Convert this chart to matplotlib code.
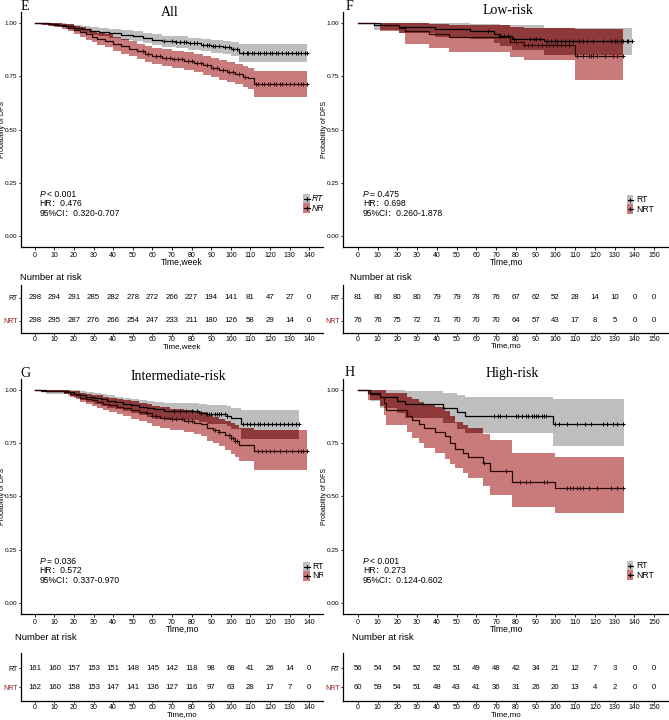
import numpy as np
import matplotlib
matplotlib.use('Agg')
import matplotlib.pyplot as plt
from matplotlib.patches import Rectangle

SANS = ['Liberation Sans Narrow', 'Liberation Sans', 'Noto Sans CJK SC', 'DejaVu Sans']
SERIF = ['Liberation Serif', 'DejaVu Serif']
plt.rcParams['font.family'] = SANS

# ---------------- data ----------------
# Panel E (All)
E_rt_t = [0, 4, 8, 12, 16, 20, 24, 28, 33, 38, 44, 50, 55, 60, 65, 72, 78, 85, 90, 96, 100, 104]
E_rt_s = [1.0, 0.997, 0.993, 0.990, 0.983, 0.977, 0.970, 0.963, 0.957, 0.950, 0.943, 0.937, 0.930, 0.920, 0.913, 0.910, 0.903, 0.897, 0.890, 0.884, 0.878, 0.858]
E_rt_up = [1.0, 1.0, 1.0, 0.999, 0.995, 0.990, 0.985, 0.980, 0.975, 0.969, 0.964, 0.959, 0.953, 0.945, 0.939, 0.936, 0.930, 0.925, 0.919, 0.914, 0.909, 0.901]
E_rt_lo = [1.0, 0.991, 0.984, 0.978, 0.969, 0.961, 0.953, 0.944, 0.936, 0.928, 0.920, 0.913, 0.905, 0.894, 0.886, 0.882, 0.874, 0.867, 0.860, 0.853, 0.846, 0.815]
E_rt_end = 139
E_rt_cens = [66, 70, 72, 74, 76, 77, 79, 81, 83, 86, 88, 89, 91, 92, 94, 97, 99, 101, 103, 106, 108, 109, 111, 112, 114, 115, 117, 118, 120, 121, 123, 124, 126, 128, 129, 131, 133, 134, 136, 138, 139]
E_nrt_t = [0, 3, 7, 10, 14, 17, 20, 23, 26, 29, 32, 36, 40, 44, 48, 52, 56, 60, 65, 70, 76, 81, 86, 90, 94, 98, 102, 106, 109, 112]
E_nrt_s = [1.0, 0.997, 0.993, 0.990, 0.983, 0.977, 0.967, 0.957, 0.945, 0.935, 0.925, 0.915, 0.900, 0.889, 0.878, 0.866, 0.855, 0.845, 0.837, 0.828, 0.820, 0.810, 0.800, 0.790, 0.780, 0.770, 0.760, 0.748, 0.740, 0.712]
E_nrt_up = [1.0, 1.0, 1.0, 0.999, 0.996, 0.993, 0.986, 0.978, 0.969, 0.961, 0.953, 0.945, 0.932, 0.922, 0.913, 0.902, 0.892, 0.883, 0.876, 0.868, 0.861, 0.852, 0.843, 0.834, 0.825, 0.816, 0.807, 0.796, 0.789, 0.776]
E_nrt_lo = [1.0, 0.990, 0.984, 0.979, 0.969, 0.960, 0.947, 0.935, 0.920, 0.908, 0.897, 0.884, 0.867, 0.855, 0.842, 0.829, 0.817, 0.806, 0.797, 0.787, 0.778, 0.767, 0.756, 0.745, 0.734, 0.723, 0.712, 0.699, 0.690, 0.651]
E_nrt_end = 139
E_nrt_cens = [55, 58, 62, 64, 67, 69, 71, 73, 75, 78, 80, 83, 85, 88, 91, 93, 96, 99, 101, 104, 107, 113, 114, 116, 117, 119, 120, 122, 123, 125, 126, 128, 130, 132, 134, 136, 137, 139]
E_risk_t = [0, 10, 20, 30, 40, 50, 60, 70, 80, 90, 100, 110, 120, 130, 140]
E_risk_rt = [298, 294, 291, 285, 282, 278, 272, 266, 227, 194, 141, 81, 47, 27, 0]
E_risk_nrt = [298, 295, 287, 276, 266, 254, 247, 233, 211, 180, 126, 58, 29, 14, 0]

# Panel F (Low-risk)
F_rt_t = [0, 8, 21, 39, 57, 69, 72, 78, 94]
F_rt_s = [1.0, 0.988, 0.978, 0.970, 0.959, 0.947, 0.936, 0.924, 0.912]
F_rt_up = [1.0, 1.0, 1.0, 0.997, 0.995, 0.995, 0.987, 0.987, 0.975]
F_rt_lo = [1.0, 0.966, 0.950, 0.935, 0.924, 0.905, 0.890, 0.873, 0.850]
F_rt_end = 139
F_rt_cens = [66, 72, 74, 76, 79, 87, 89, 90, 92, 96, 98, 100, 101, 103, 105, 107, 109, 112, 114, 116, 119, 124, 128, 130, 131, 133, 134, 136, 137, 139]
F_nrt_t = [0, 11, 21, 24, 36, 46, 77, 84, 110]
F_nrt_s = [1.0, 0.987, 0.974, 0.960, 0.946, 0.932, 0.910, 0.897, 0.842]
F_nrt_up = [1.0, 1.0, 1.0, 0.998, 0.995, 0.990, 0.982, 0.975, 0.970]
F_nrt_lo = [1.0, 0.962, 0.950, 0.901, 0.881, 0.862, 0.840, 0.826, 0.731]
F_nrt_end = 134
F_nrt_cens = [80, 84, 86, 88, 91, 93, 95, 97, 99, 101, 103, 105, 107, 111, 114, 117, 118, 119, 121, 125, 129, 131, 134]
F_risk_t = [0, 10, 20, 30, 40, 50, 60, 70, 80, 90, 100, 110, 120, 130, 140, 150]
F_risk_rt = [81, 80, 80, 80, 79, 79, 78, 76, 67, 62, 52, 28, 14, 10, 0, 0]
F_risk_nrt = [76, 76, 75, 72, 71, 70, 70, 70, 64, 57, 43, 17, 8, 5, 0, 0]

# Panel G (Intermediate-risk)
G_rt_t = [0, 6, 17, 20, 23, 26, 30, 34, 37, 41, 45, 49, 53, 57, 61, 66, 84, 88, 98, 100, 105]
G_rt_s = [1.0, 0.994, 0.988, 0.981, 0.975, 0.968, 0.962, 0.955, 0.948, 0.942, 0.935, 0.928, 0.921, 0.914, 0.908, 0.901, 0.893, 0.885, 0.877, 0.868, 0.840]
G_rt_up = [1.0, 1.0, 1.0, 0.997, 0.993, 0.988, 0.984, 0.978, 0.973, 0.968, 0.963, 0.958, 0.952, 0.946, 0.941, 0.937, 0.932, 0.927, 0.922, 0.915, 0.905]
G_rt_lo = [1.0, 0.982, 0.970, 0.960, 0.950, 0.942, 0.933, 0.925, 0.916, 0.908, 0.899, 0.890, 0.882, 0.873, 0.865, 0.856, 0.847, 0.838, 0.829, 0.818, 0.771]
G_rt_end = 135
G_rt_cens = [71, 74, 77, 80, 83, 85, 88, 89, 90, 92, 93, 94, 95, 97, 98, 106, 108, 110, 112, 114, 115, 117, 119, 121, 123, 125, 127, 129, 131, 133, 135]
G_nrt_t = [0, 3, 15, 18, 21, 23, 26, 29, 32, 35, 38, 42, 45, 49, 53, 57, 60, 64, 69, 76, 81, 85, 88, 91, 94, 97, 100, 102, 104, 112]
G_nrt_s = [1.0, 0.994, 0.988, 0.981, 0.975, 0.963, 0.956, 0.950, 0.943, 0.935, 0.928, 0.921, 0.913, 0.905, 0.897, 0.889, 0.877, 0.869, 0.861, 0.853, 0.846, 0.838, 0.822, 0.812, 0.800, 0.786, 0.772, 0.760, 0.743, 0.714]
G_nrt_up = [1.0, 1.0, 0.998, 0.995, 0.992, 0.985, 0.981, 0.977, 0.973, 0.967, 0.962, 0.957, 0.951, 0.945, 0.939, 0.933, 0.923, 0.917, 0.911, 0.905, 0.900, 0.894, 0.882, 0.874, 0.865, 0.854, 0.843, 0.833, 0.819, 0.812]
G_nrt_lo = [1.0, 0.988, 0.978, 0.967, 0.958, 0.941, 0.931, 0.923, 0.913, 0.903, 0.894, 0.885, 0.875, 0.865, 0.855, 0.845, 0.831, 0.821, 0.811, 0.801, 0.792, 0.782, 0.762, 0.750, 0.735, 0.718, 0.701, 0.687, 0.667, 0.623]
G_nrt_end = 139
G_nrt_cens = [57, 60, 62, 66, 70, 72, 75, 78, 80, 92, 94, 99, 100, 101, 102, 103, 114, 116, 118, 120, 122, 125, 128, 131, 134, 136, 137, 139]
G_risk_t = [0, 10, 20, 30, 40, 50, 60, 70, 80, 90, 100, 110, 120, 130, 140]
G_risk_rt = [161, 160, 157, 153, 151, 148, 145, 142, 118, 98, 68, 41, 26, 14, 0]
G_risk_nrt = [162, 160, 158, 153, 147, 141, 136, 127, 116, 97, 63, 28, 17, 7, 0]

# Panel H (High-risk)
H_rt_t = [0, 6, 11, 20, 24, 43, 50, 54, 99]
H_rt_s = [1.0, 0.982, 0.964, 0.947, 0.931, 0.912, 0.895, 0.878, 0.839]
H_rt_up = [1.0, 1.0, 1.0, 0.998, 0.994, 0.985, 0.976, 0.966, 0.956]
H_rt_lo = [1.0, 0.948, 0.916, 0.890, 0.866, 0.842, 0.818, 0.797, 0.737]
H_rt_end = 134.5
H_rt_cens = [69, 71, 72, 75, 80, 81, 83, 85, 86, 88, 89, 90, 91, 93, 94, 95, 100, 102, 106, 111, 115, 118, 124, 126, 129, 131, 134]
H_nrt_t = [0, 5, 11, 13, 14.5, 24.7, 27.5, 31, 33.6, 39, 44, 46.6, 49.2, 53, 56, 63.5, 66.9, 78, 100]
H_nrt_s = [1.0, 0.983, 0.967, 0.940, 0.906, 0.878, 0.856, 0.840, 0.822, 0.804, 0.782, 0.750, 0.722, 0.705, 0.687, 0.656, 0.620, 0.566, 0.538]
H_nrt_up = [1.0, 1.0, 1.0, 0.997, 0.985, 0.968, 0.955, 0.944, 0.930, 0.918, 0.900, 0.875, 0.850, 0.835, 0.820, 0.792, 0.765, 0.703, 0.684]
H_nrt_lo = [1.0, 0.950, 0.922, 0.880, 0.835, 0.800, 0.773, 0.750, 0.726, 0.703, 0.676, 0.652, 0.632, 0.610, 0.585, 0.550, 0.507, 0.452, 0.421]
H_nrt_end = 134.5
H_nrt_cens = [64, 75, 82, 85, 87, 94, 96, 106, 107.5, 109, 111, 112.5, 114, 117, 121, 128, 131, 134]
H_risk_t = [0, 10, 20, 30, 40, 50, 60, 70, 80, 90, 100, 110, 120, 130, 140, 150]
H_risk_rt = [56, 54, 54, 52, 52, 51, 49, 48, 42, 34, 21, 12, 7, 3, 0, 0]
H_risk_nrt = [60, 59, 54, 51, 48, 43, 41, 36, 31, 26, 20, 13, 4, 2, 0, 0]

groups = ['RT', 'NRT']
y_ticks = [0.00, 0.25, 0.50, 0.75, 1.00]

# ---------------- styling ----------------
GRAY = '#BEBEBE'
RED = '#C97B7B'
DARK = '#8F3A3A'
NRT_LINE = '#2A0505'
NRT_LABEL = '#8B1A1A'

W, H = 669, 720
fig = plt.figure(figsize=(W / 100, H / 100), dpi=100)


def add_ax(l, t, r, b):
    return fig.add_axes([l / W, 1 - b / H, (r - l) / W, (b - t) / H])


def ftext(x, y, s, **kw):
    fig.text(x / W, 1 - y / H, s, **kw)


def step_eval(times, vals, grid):
    idx = np.searchsorted(np.asarray(times, float), grid, side='right') - 1
    return np.asarray(vals, float)[idx]


def ext(t, v, end):
    return list(t) + [end], list(v) + [v[-1]]


def style_axis(ax, xmax, labelsize=5.0, pad=1.5, length=2):
    for s in ['top', 'right']:
        ax.spines[s].set_visible(False)
    for s in ['left', 'bottom']:
        ax.spines[s].set_linewidth(0.9)
    ax.tick_params(length=length, width=0.6, labelsize=labelsize, pad=pad)
    ax.tick_params(axis='y', labelsize=4.6, pad=0.8, length=1.8)
    ax.set_xticks(list(range(0, xmax + 1, 10)))
    ax.set_xlim(-0.05 * xmax, 1.05 * xmax)


def draw_panel(cfg):
    ax = add_ax(*cfg['main'])
    xmax = cfg['xmax']
    style_axis(ax, xmax)
    ax.set_ylim(-0.05, 1.05)
    ax.set_yticks(y_ticks)
    ax.set_yticklabels(['%.2f' % v for v in y_ticks])
    ftext(cfg['ylab_xy'][0], cfg['ylab_xy'][1], 'Probability of DFS', fontsize=5.0,
          family=['Liberation Sans', 'DejaVu Sans'], rotation=90, ha='center', va='center')
    series = cfg['series']
    # bands
    for s, col in zip(series, [GRAY, RED]):
        tt, lo = ext(s['t'], s['lo'], s['end'])
        _, up = ext(s['t'], s['up'], s['end'])
        ax.fill_between(tt, lo, up, step='post', color=col, lw=0, zorder=1)
    # overlap of the two bands
    a, b = series
    end = min(a['end'], b['end'])
    grid = np.unique(np.concatenate([a['t'], b['t'], [end]]))
    grid = grid[grid <= end]
    lo = np.maximum(step_eval(a['t'], a['lo'], grid), step_eval(b['t'], b['lo'], grid))
    up = np.minimum(step_eval(a['t'], a['up'], grid), step_eval(b['t'], b['up'], grid))
    up = np.maximum(up, lo)
    ax.fill_between(grid, lo, up, step='post', color=DARK, lw=0, zorder=2)
    # curves and censor marks
    for s, col in zip(series, ['black', NRT_LINE]):
        tt, ss = ext(s['t'], s['s'], s['end'])
        ax.step(tt, ss, where='post', color=col, lw=0.9, zorder=3)
        ct = np.asarray(s['cens'], float)
        cy = step_eval(s['t'], s['s'], ct)
        ax.plot(ct, cy, ls='none', marker='+', ms=3.2, mew=0.7, color=col, zorder=4)
    # stats text
    sx, sy = cfg['stats_xy']
    ax.text(sx, sy, 'P', style='italic', fontsize=6.2, va='center', ha='left')
    ax.annotate(cfg['p'], (sx, sy), xytext=(5.0, 0), textcoords='offset points', fontsize=6.2, va='center', ha='left')
    ax.text(sx, sy - 0.043, 'HR：' + cfg['hr'], fontsize=6.2, va='center', ha='left')
    ax.text(sx, sy - 0.088, '95%CI：' + cfg['ci'], fontsize=6.2, va='center', ha='left')
    # legend
    kx0, kx1, lx = cfg['key_x']
    for yc, col, name in zip(cfg['key_y'], [GRAY, RED], groups):
        ax.add_patch(Rectangle((kx0, yc - 0.022), kx1 - kx0, 0.044, color=col, lw=0, zorder=5))
        ax.plot([kx0 + 0.3, kx1 - 0.3], [yc, yc], color='black', lw=0.8, zorder=6)
        ax.plot([(kx0 + kx1) / 2], [yc], marker='+', ms=3.5, mew=0.8, color='black', zorder=6)
        ax.text(lx, yc, name, fontsize=6.2, va='center', ha='left', style=cfg['legend_style'], clip_on=True, zorder=6)
    # letter and title
    ftext(*cfg['letter_xy'], cfg['letter'], fontsize=10, family=SERIF, ha='center', va='center')
    ftext(*cfg['title_xy'], cfg['title'], fontsize=10, family=SERIF, ha='center', va='center')
    ftext(cfg['xlab_x'], cfg['xlab_y'][0], cfg['xlab'], fontsize=6.2, ha='center', va='center')

    # risk table
    tb = add_ax(*cfg['table'])
    style_axis(tb, xmax, labelsize=5.0, pad=1, length=1.5)
    tb.tick_params(axis='y', labelsize=5.0)
    tb.set_ylim(*cfg['table_ylim'])
    tb.set_yticks([1, 0])
    tb.set_yticklabels(groups)
    tb.get_yticklabels()[1].set_color(NRT_LABEL)
    for row, yv in [(cfg['risk'][1], 1), (cfg['risk'][2], 0)]:
        for x, n in zip(cfg['risk'][0], row):
            tb.text(x, yv, str(n), fontsize=5.6, ha='center', va='center')
    ftext(cfg['nar_x'], cfg['nar_y'], 'Number at risk', fontsize=6.8, ha='left', va='center')
    ftext(cfg['xlab_x'], cfg['xlab_y'][1], cfg['xlab'], fontsize=5.8, ha='center', va='center')


def mk(t, s, lo, up, end, cens):
    return dict(t=np.asarray(t, float), s=s, lo=lo, up=up, end=end, cens=cens)


panels = [
    dict(letter='E', title='All', xmax=140, xlab='Time,week',
         main=(21, 12, 323, 247), table=(21, 285, 323, 333), table_ylim=(-0.535, 1.552),
         letter_xy=(25, 7), title_xy=(170, 12), xlab_x=182, xlab_y=(262, 347), nar_x=20, nar_y=277,
         ylab_xy=(2.6, 129.5),
         series=[mk(E_rt_t, E_rt_s, E_rt_lo, E_rt_up, E_rt_end, E_rt_cens),
                 mk(E_nrt_t, E_nrt_s, E_nrt_lo, E_nrt_up, E_nrt_end, E_nrt_cens)],
         risk=(E_risk_t, E_risk_rt, E_risk_nrt),
         p='< 0.001', hr='0.476', ci='0.320-0.707', stats_xy=(2.5, 0.197),
         key_x=(137, 140.5, 141.5), key_y=(0.176, 0.132), legend_style='italic'),
    dict(letter='F', title='Low-risk', xmax=150, xlab='Time,mo',
         main=(343, 12, 669, 247), table=(343, 285, 669, 333), table_ylim=(-0.535, 1.552),
         letter_xy=(349, 6), title_xy=(508, 10), xlab_x=506, xlab_y=(262, 346), nar_x=350, nar_y=277,
         ylab_xy=(324, 129.5),
         series=[mk(F_rt_t, F_rt_s, F_rt_lo, F_rt_up, F_rt_end, F_rt_cens),
                 mk(F_nrt_t, F_nrt_s, F_nrt_lo, F_nrt_up, F_nrt_end, F_nrt_cens)],
         risk=(F_risk_t, F_risk_rt, F_risk_nrt),
         p='= 0.475', hr='0.698', ci='0.260-1.878', stats_xy=(2.5, 0.197),
         key_x=(136.4, 139.4, 140.9), key_y=(0.171, 0.127), legend_style='normal'),
    dict(letter='G', title='Intermediate-risk', xmax=140, xlab='Time,mo',
         main=(21, 379, 323, 614), table=(21, 653, 323, 701), table_ylim=(-0.737, 1.79),
         letter_xy=(25, 373), title_xy=(178, 377), xlab_x=182, xlab_y=(629, 714.5), nar_x=15, nar_y=637,
         ylab_xy=(2.6, 496.5),
         series=[mk(G_rt_t, G_rt_s, G_rt_lo, G_rt_up, G_rt_end, G_rt_cens),
                 mk(G_nrt_t, G_nrt_s, G_nrt_lo, G_nrt_up, G_nrt_end, G_nrt_cens)],
         risk=(G_risk_t, G_risk_rt, G_risk_nrt),
         p='= 0.036', hr='0.572', ci='0.337-0.970', stats_xy=(2.5, 0.197),
         key_x=(137, 140.5, 141.5), key_y=(0.172, 0.128), legend_style='normal'),
    dict(letter='H', title='High-risk', xmax=150, xlab='Time,mo',
         main=(343, 379, 669, 614), table=(343, 653, 669, 701), table_ylim=(-0.737, 1.79),
         letter_xy=(350, 372), title_xy=(512, 373), xlab_x=506, xlab_y=(629, 714.5), nar_x=352, nar_y=637,
         ylab_xy=(324, 496.5),
         series=[mk(H_rt_t, H_rt_s, H_rt_lo, H_rt_up, H_rt_end, H_rt_cens),
                 mk(H_nrt_t, H_nrt_s, H_nrt_lo, H_nrt_up, H_nrt_end, H_nrt_cens)],
         risk=(H_risk_t, H_risk_rt, H_risk_nrt),
         p='< 0.001', hr='0.273', ci='0.124-0.602', stats_xy=(2.5, 0.197),
         key_x=(136.4, 139.4, 140.9), key_y=(0.176, 0.132), legend_style='normal'),
]

for cfg in panels:
    draw_panel(cfg)

fig.savefig('out.png', dpi=100)
